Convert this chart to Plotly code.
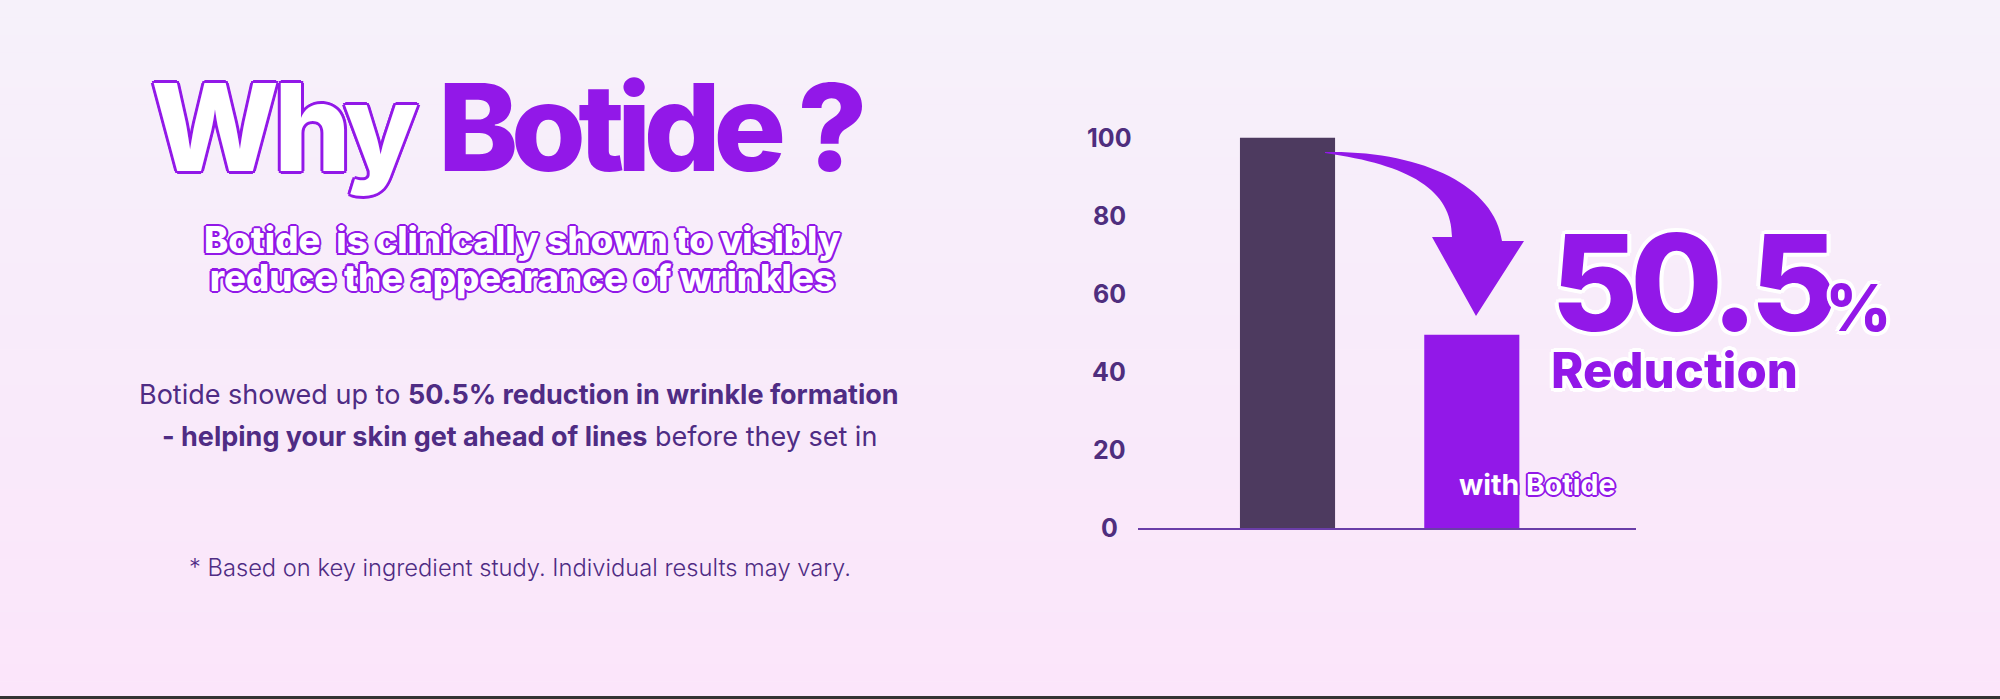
import plotly.graph_objects as go

W, H = 2000, 699

categories = ["Without Botide", "With Botide"]
values = [100, 49.5]
tick_values = [0, 20, 40, 60, 80, 100]
tick_labels = ["0", "20", "40", "60", "80", "100"]
reduction_label = "50.5"

PURPLE = "#9218e8"
DARK = "#4d3a5f"
INK = "#4f2c84"


def px(x):
    return x / W


def py(y):
    return 1 - y / H


def outline(color, r=3):
    d = r * 0.7
    offs = [(r, 0), (-r, 0), (0, r), (0, -r), (d, d), (-d, -d), (d, -d), (-d, d)]
    return ", ".join(f"{a:.1f}px {b:.1f}px 0 {color}" for a, b in offs)


def tight(txt, ls, size=None):
    style = f"letter-spacing:{ls}px"
    if size:
        style += f";font-size:{size}px"
    return f"<span style='{style}'>{txt}</span>"


fig = go.Figure(go.Bar(
    x=categories,
    y=values,
    width=0.516,
    marker=dict(color=[DARK, PURPLE], line=dict(width=0)),
    hoverinfo="skip",
))

# soft vertical background gradient
shapes = []
n = 40
c0, c1 = (246, 241, 250), (251, 229, 250)
for i in range(n):
    t = i / (n - 1)
    c = tuple(round(a + (b - a) * t) for a, b in zip(c0, c1))
    shapes.append(dict(type="rect", xref="paper", yref="paper", layer="below",
                       x0=0, x1=1, y0=1 - (i + 1) / n, y1=1 - i / n,
                       fillcolor=f"rgb{c}", line=dict(width=0)))
shapes.append(dict(type="rect", xref="paper", yref="paper", x0=0, x1=1,
                   y0=0, y1=py(696), fillcolor="#333333", line=dict(width=0)))

# curved arrow from the first bar down to the second
pts = dict(
    s=(1325, 152), c1=(1420, 150), c2=(1495, 185), e=(1502, 241),
    r=(1524, 241), tip=(1476, 316), l=(1432, 237), ie=(1452, 237),
    ic1=(1452, 190), ic2=(1410, 165), s2=(1325, 153),
)
P = {k: f"{px(v[0]):.5f},{py(v[1]):.5f}" for k, v in pts.items()}
path = (f"M {P['s']} C {P['c1']} {P['c2']} {P['e']} L {P['r']} L {P['tip']} "
        f"L {P['l']} L {P['ie']} C {P['ic1']} {P['ic2']} {P['s2']} Z")
shapes.append(dict(type="path", xref="paper", yref="paper", path=path,
                   fillcolor=PURPLE, line=dict(width=0)))

ann = []
# title
ann.append(dict(text=tight("Why", -5), x=px(420), y=py(127), xanchor="right", yanchor="middle",
                font=dict(family="Inter", size=121, weight=800, color="white",
                          shadow=outline(PURPLE, 3))))
ann.append(dict(text=tight("Botide ?", -7.5), x=px(436), y=py(127), xanchor="left",
                yanchor="middle",
                font=dict(family="Inter", size=121, weight=800, color=PURPLE)))
# outlined subtitle (two lines, one block)
sub = (tight("Botide  is clinically shown to visibly", 0, 36.5) + "<br>"
       + tight("reduce the appearance of wrinkles", 0, 36.5))
ann.append(dict(text=sub, x=px(522), y=py(259), xanchor="center", yanchor="middle",
                align="center",
                font=dict(family="Inter", size=29, weight=800, color="white",
                          shadow=outline(PURPLE, 2.2))))
# body copy
for txt, yy in [("Botide showed up to <b>50.5% reduction in wrinkle formation</b>", 394),
                ("<b>- helping your skin get ahead of lines</b> before they set in", 436)]:
    ann.append(dict(text=txt, x=px(519), y=py(yy), xanchor="center", yanchor="middle",
                    font=dict(family="Inter", size=27, weight=400, color=INK)))
ann.append(dict(text="* Based on key ingredient study. Individual results may vary.",
                x=px(520), y=py(567), xanchor="center", yanchor="middle",
                font=dict(family="Inter", size=23.7, weight=300, color=INK)))

# big number + "Reduction" in one block
big = (tight(reduction_label[:-1], -8, 134) + tight(reduction_label[-1], -12, 134)
       + tight("%", 0, 64) + "<br>" + tight("Reduction", 0, 49))
ann.append(dict(text=big, x=px(1549), y=py(300), xanchor="left", yanchor="middle",
                align="left",
                font=dict(family="Inter", size=44, weight=800, color=PURPLE,
                          shadow=outline("white", 4))))
ann.append(dict(text="with Botide", x=px(1457), y=py(484), xanchor="left", yanchor="middle",
                font=dict(family="Inter", size=28.5, weight=700, color="white",
                          shadow=outline(PURPLE, 2))))
# y tick labels, centred like the original
for v, lab in zip(tick_values, tick_labels):
    ann.append(dict(text=lab, x=px(1109), y=v, yref="y", xanchor="center", yanchor="middle",
                    font=dict(family="Inter", size=25, weight=700, color="#4f2e7e")))

for a in ann:
    a.setdefault("xref", "paper")
    a.setdefault("yref", "paper")
    a["showarrow"] = False

fig.update_layout(
    width=W, height=H,
    margin=dict(l=0, r=0, t=0, b=0),
    paper_bgcolor="#f8ecfa",
    plot_bgcolor="rgba(0,0,0,0)",
    showlegend=False,
    shapes=shapes,
    annotations=ann,
    xaxis=dict(domain=[px(1137.5), px(1636)], range=[-0.814, 1.891],
               showticklabels=False, showgrid=False, zeroline=False,
               showline=True, linecolor="#6a3da8", linewidth=2, ticks=""),
    yaxis=dict(domain=[1 - 528 / H, 1 - 100 / H], range=[0, 109.66],
               showticklabels=False, showgrid=False, zeroline=False, showline=False),
)

fig.write_html("out.html", config={"displayModeBar": False},
               post_script="document.body.style.margin='0';document.body.style.overflow='hidden';")
